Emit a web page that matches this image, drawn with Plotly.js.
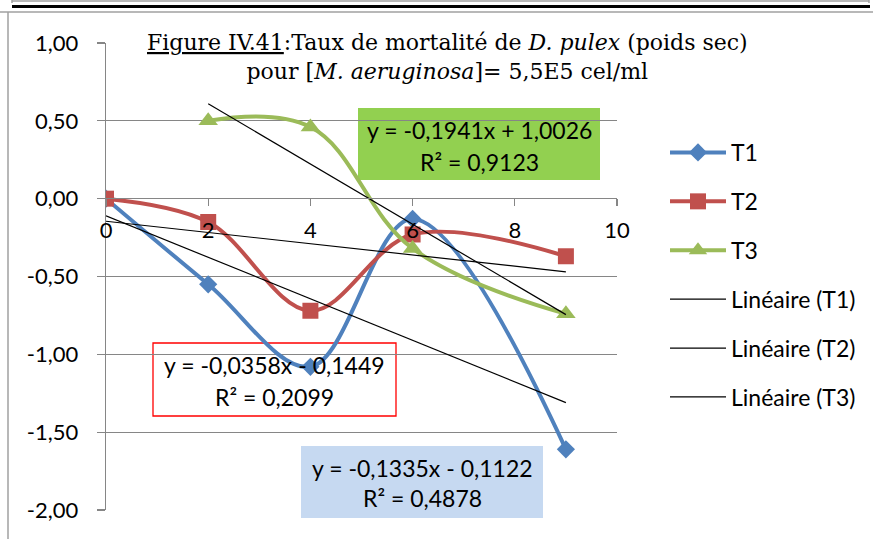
<!DOCTYPE html>
<html>
<head>
<meta charset="utf-8">
<script src="https://cdn.plot.ly/plotly-3.0.1.min.js"></script>
<style>
html,body{margin:0;padding:0;background:#fff;}
#chart{width:873px;height:539px;}
</style>
</head>
<body>
<div id="chart"></div>
<script>
// ---- data ----
const x1 = [0, 2, 4, 6, 9];
const t1 = [0, -0.55, -1.08, -0.13, -1.61];
const x2 = [0, 2, 4, 6, 9];
const t2 = [0, -0.15, -0.72, -0.23, -0.37];
const x3 = [2, 4, 6, 9];
const t3 = [0.50, 0.46, -0.32, -0.74];
// linear trend lines (end points)
const trendX1 = [0, 9];
const trendY1 = [-0.11, -1.31];
const trendX2 = [0, 9];
const trendY2 = [-0.145, -0.47];
const trendX3 = [2, 9];
const trendY3 = [0.61, -0.745];
const seriesNames = ['T1', 'T2', 'T3', 'Linéaire (T1)', 'Linéaire (T2)', 'Linéaire (T3)'];
const yTickVals = [-2, -1.5, -1, -0.5, 0, 0.5, 1];
const yTickText = ['-2,00', '-1,50', '-1,00', '-0,50', '0,00', '0,50', '1,00'];
const xTickVals = [0, 2, 4, 6, 8, 10];
const xTickText = ['0', '2', '4', '6', '8', '10'];
const eqT3 = ['y = -0,1941x + 1,0026', 'R² = 0,9123'];
const eqT2 = ['y = -0,0358x - 0,1449', 'R² = 0,2099'];
const eqT1 = ['y = -0,1335x - 0,1122', 'R² = 0,4878'];
const titleText = '<u>Figure IV.41</u>:Taux de mortalité de <i>D. pulex</i> (poids sec)<br>pour [<i>M. aeruginosa</i>]= 5,5E5 cel/ml';

const FONT = 'Lato, "Open Sans", sans-serif';
const FS = 22;   // tick labels
const FA = 23;   // legend & equations
const blue = '#4F81BD', red = '#C0504D', green = '#9BBB59';

const traces = [
  {x: x1, y: t1, name: seriesNames[0], mode: 'lines+markers', legendgroup: 'a',
   line: {color: blue, width: 4, shape: 'spline', smoothing: 1},
   marker: {symbol: 'diamond', size: 14, color: blue}},
  {x: x2, y: t2, name: seriesNames[1], mode: 'lines+markers', legendgroup: 'b',
   line: {color: red, width: 4, shape: 'spline', smoothing: 1},
   marker: {symbol: 'square', size: 16, color: red}},
  {x: x3, y: t3, name: seriesNames[2], mode: 'lines+markers', legendgroup: 'c',
   line: {color: green, width: 4, shape: 'spline', smoothing: 1.1},
   marker: {symbol: 'triangle-up', size: 17, color: green}},
  {x: trendX1, y: trendY1, name: seriesNames[3], mode: 'lines', legendgroup: 'd',
   line: {color: '#000', width: 1.2}},
  {x: trendX2, y: trendY2, name: seriesNames[4], mode: 'lines', legendgroup: 'e',
   line: {color: '#000', width: 1.2}},
  {x: trendX3, y: trendY3, name: seriesNames[5], mode: 'lines', legendgroup: 'f',
   line: {color: '#000', width: 1.2}}
];

// plot area: left 106, right 617, top 43, bottom 510
const L = 106, R = 617, T = 43, B = 510;
const px = v => (v - L) / (R - L);
const py = v => (B - v) / (B - T);

function box(x0, x1, y0, y1, fill, line) {
  return {type: 'rect', xref: 'paper', yref: 'paper', layer: 'between',
    x0: px(x0), x1: px(x1), y0: py(y1), y1: py(y0),
    fillcolor: fill, line: {color: line || 'rgba(0,0,0,0)', width: line ? 1.3 : 0}};
}
function hline(x0, x1, y, color, w) {
  return {type: 'line', xref: 'paper', yref: 'paper', layer: 'above',
    x0: px(x0), x1: px(x1), y0: py(y), y1: py(y), line: {color: color, width: w}};
}
function vline(x, y0, y1, color, w) {
  return {type: 'line', xref: 'paper', yref: 'paper', layer: 'above',
    x0: px(x), x1: px(x), y0: py(y0), y1: py(y1), line: {color: color, width: w}};
}
function txt(x, y, s) {
  return {xref: 'paper', yref: 'paper', x: px(x), y: py(y), text: s, showarrow: false,
    xanchor: 'center', yanchor: 'middle', font: {family: FONT, size: FA, color: '#000'}};
}

const layout = {
  width: 873, height: 539,
  margin: {l: L, r: 873 - R, t: T, b: 539 - B, pad: 0},
  paper_bgcolor: '#fff', plot_bgcolor: '#fff',
  separators: ', ',
  showlegend: true,
  font: {family: FONT, size: FS, color: '#000'},
  xaxis: {range: [0, 10], tickmode: 'array', tickvals: xTickVals, ticktext: xTickText,
    anchor: 'free', position: py(198),
    showline: true, linecolor: '#868686', linewidth: 1.3, showgrid: false, zeroline: false,
    ticks: 'outside', ticklen: 7, tickcolor: '#868686', tickwidth: 1.3, ticklabelstandoff: 5,
    tickfont: {family: FONT, size: FS, color: '#000'}},
  yaxis: {range: [-2, 1], tickmode: 'array', tickvals: yTickVals, ticktext: yTickText,
    showline: true, linecolor: '#868686', linewidth: 1.3, showgrid: true, gridcolor: '#868686', gridwidth: 1.3,
    zeroline: false, ticks: 'outside', ticklen: 8, tickcolor: '#868686', tickwidth: 1.3, ticklabelstandoff: 14,
    tickfont: {family: FONT, size: FS, color: '#000'}},
  legend: {x: px(665), xanchor: 'left', y: py(131), yanchor: 'top', bgcolor: 'rgba(0,0,0,0)',
    font: {family: FONT, size: FA, color: '#000'}, tracegroupgap: 16, itemwidth: 56},
  annotations: [
    {xref: 'paper', yref: 'paper', x: px(447), y: py(57), xanchor: 'center', yanchor: 'middle',
     text: titleText, showarrow: false, align: 'center',
     font: {family: '"DejaVu Serif", serif', size: 22, color: '#000'}},
    txt(479, 130, eqT3[0]), txt(479, 162, eqT3[1]),
    txt(274.5, 365, eqT2[0]), txt(274.5, 397, eqT2[1]),
    txt(422, 468, eqT1[0]), txt(422, 498, eqT1[1])
  ],
  shapes: [
    box(358, 600, 108, 180, '#92D050'),
    box(153, 396, 343, 416, 'rgba(0,0,0,0)', '#FF0000'),
    box(301, 543, 446, 518, '#C6D9F1'),
    // page frame
    hline(12, 869, 1, '#A0A0A0', 1.5),
    vline(12, 0, 3, '#A0A0A0', 1.5),
    vline(869, 0, 3, '#A0A0A0', 1.5),
    hline(12, 870, 6.5, '#000', 3),
    hline(0, 873, 12, '#A0A0A0', 1.5),
    vline(8, 12, 539, '#A0A0A0', 1.5)
  ]
};

Plotly.newPlot('chart', traces, layout, {displayModeBar: false, staticPlot: true});
</script>
</body>
</html>
